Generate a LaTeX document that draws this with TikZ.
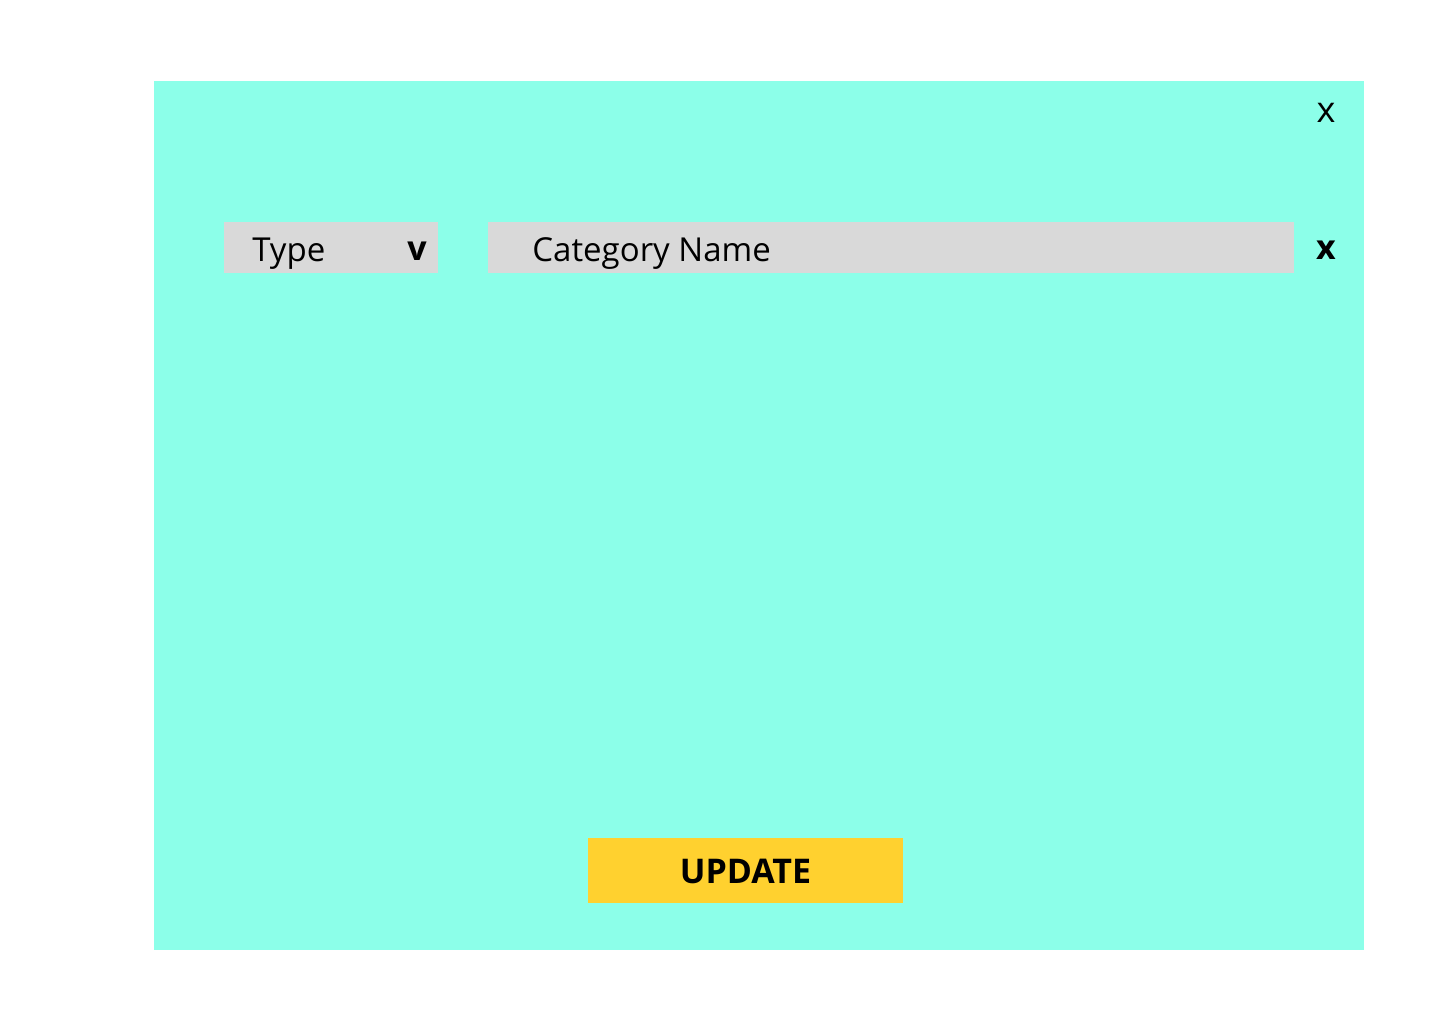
\documentclass[tikz,border=0pt]{standalone}
\usepackage{fontspec}
\setmainfont{Open Sans}
\definecolor{panel}{HTML}{8CFFE9}
\definecolor{field}{HTML}{D9D9D9}
\definecolor{btn}{HTML}{FFD12F}
\begin{document}
\begin{tikzpicture}[x=0.5pt,y=-0.5pt,
  lbl/.style={inner sep=0pt,font=\fontsize{16.5}{20}\selectfont},
  blbl/.style={inner sep=0pt,font=\fontsize{17}{20}\selectfont\bfseries},
  boxfill/.style={inner sep=0pt,draw=none}]
\useasboundingbox (0,0) rectangle (1440,1024);
\fill[white] (0,0) rectangle (1440,1024);
\fill[panel] (154,81) rectangle (1364,950);
\node[boxfill,fill=field,minimum width=107pt,minimum height=25.5pt] (typebox) at (331,247.5) {};
\node[boxfill,fill=field,minimum width=403pt,minimum height=25.5pt] (catbox) at (891,247.5) {};
\node[boxfill,fill=btn,minimum width=157.5pt,minimum height=32.5pt] (upd) at (745.5,870.5) {};
\node[lbl,anchor=base west] (typetxt) at (252,261) {Type};
\node[blbl,anchor=base] (vtxt) at (417,260) {v};
\node[lbl,anchor=base west] (cattxt) at (532,261) {Category Name};
\node[lbl,anchor=base,font=\fontsize{18}{20}\selectfont] (closex) at (1326,122) {x};
\node[blbl,anchor=base] (clearx) at (1326,259) {x};
\node[blbl,anchor=base] (updtxt) at (745.5,883) {UPDATE};
\end{tikzpicture}
\end{document}
